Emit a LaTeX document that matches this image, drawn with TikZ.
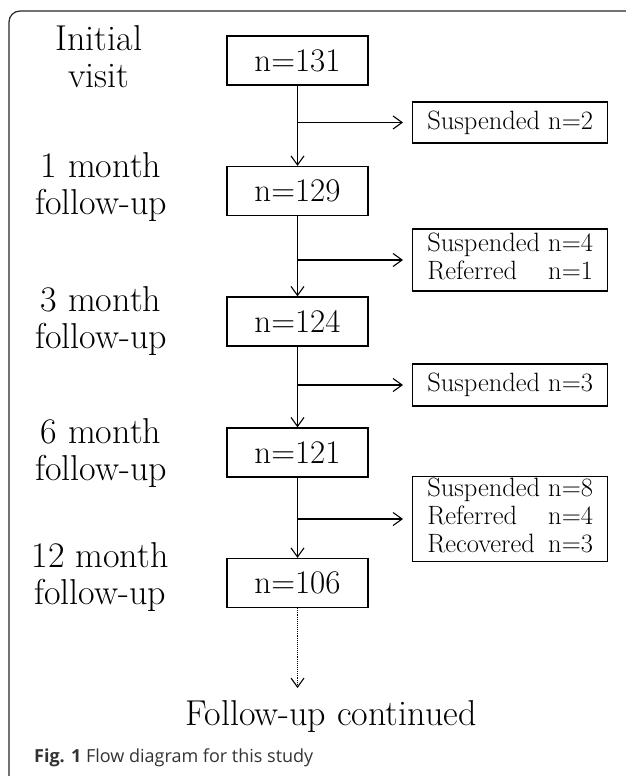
\documentclass[tikz,border=0pt]{standalone}
\usepackage{fontspec}
\newfontfamily\capfont{Open Sans}
\usetikzlibrary{arrows.meta}
\begin{document}
\begin{tikzpicture}[x=1pt,y=-1pt,
  mainbox/.style={draw, line width=1.3pt, minimum width=141pt, minimum height=49pt, inner sep=0pt, font=\fontsize{33}{38}\selectfont},
  sidebox/.style={draw, line width=1.3pt, minimum width=195pt, inner sep=0pt, anchor=west, font=\fontsize{26.5}{28}\selectfont},
  lbl/.style={align=center, font=\fontsize{36}{37}\selectfont},
  arr/.style={line width=1.1pt, -{Straight Barb[length=9pt,width=13pt]}},
  branch/.style={arr, shorten >=9pt},
]
\useasboundingbox (0,0) rectangle (625,776);
\draw[line width=1.2pt, rounded corners=11pt, black!85] (640,11) -- (9,11) -- (9,788) -- (640,788);

% main boxes
\node[mainbox] (a) at (297.5,60.5) {n=131};
\node[mainbox] (b) at (297.5,191) {n=129};
\node[mainbox] (c) at (297.5,321.5) {n=124};
\node[mainbox] (d) at (297.5,452.5) {n=121};
\node[mainbox] (e) at (297.5,583) {n=106};

% side boxes
\node[sidebox, minimum height=41pt] (s1) at (412,122.5) {Suspended n=2};
\node[sidebox, minimum height=62pt] (s2) at (412,260) {\begin{tabular}{@{}l@{\ }r@{}}Suspended & n=4\\ Referred & n=1\end{tabular}};
\node[sidebox, minimum height=42pt] (s3) at (412,385) {Suspended n=3};
\node[sidebox, minimum height=85pt] (s4) at (412,519) {\begin{tabular}{@{}l@{\ }r@{}}Suspended & n=8\\ Referred & n=4\\ Recovered & n=3\end{tabular}};

% left labels
\node[lbl] (l1) at (99,56.5) {Initial\\visit};
\node[lbl] (l2) at (101,187.5) {1 month\\follow-up};
\node[lbl] (l3) at (101,321.5) {3 month\\follow-up};
\node[lbl] (l4) at (101,453.5) {6 month\\follow-up};
\node[lbl] (l5) at (100,577.5) {12 month\\follow-up};

% main flow
\draw[arr] (a) -- (b);
\draw[arr] (b) -- (c);
\draw[arr] (c) -- (d);
\draw[arr] (d) -- (e);

% branches
\draw[branch] (a |- s1.west) -- (s1.west);
\draw[branch] (b |- s2.west) -- (s2.west);
\draw[branch] (c |- s3.west) -- (s3.west);
\draw[branch] (d |- s4.west) -- (s4.west);

% continuation
\coordinate (cont) at (297.5,688);
\draw[arr, densely dotted] (e) -- (cont);
\node[font=\fontsize{36}{40}\selectfont] (fc) at (331,717) {Follow-up continued};

% caption
\node[anchor=west, inner sep=0pt, font=\capfont\fontsize{18}{22}\selectfont, text=black!80] (cap) at (34,758) {\textbf{Fig. 1} Flow diagram for this study};
\end{tikzpicture}
\end{document}
